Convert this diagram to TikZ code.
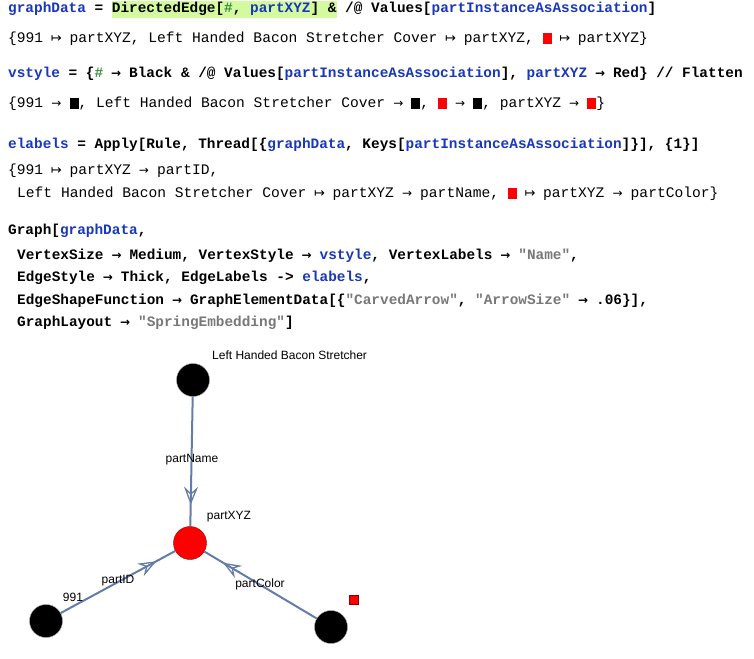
\documentclass[tikz,border=0pt]{standalone}
\usepackage{fontspec}
\setmainfont{Liberation Sans}
\setmonofont{Liberation Mono}
\newfontfamily\symfont{DejaVu Sans}
\usetikzlibrary{decorations.markings}

\definecolor{symblue}{RGB}{25,55,185}
\definecolor{hashgreen}{RGB}{60,140,60}
\definecolor{strgray}{RGB}{120,120,120}
\definecolor{hilite}{RGB}{212,250,160}
\definecolor{edgeblue}{RGB}{100,125,168}

\newcommand{\usym}[1]{\textcolor{symblue}{#1}}
\newcommand{\hsh}{\textcolor{hashgreen}{\#}}
\newcommand{\mstr}[1]{\textcolor{strgray}{#1}}
\newcommand{\hl}[1]{{\setlength{\fboxsep}{0pt}\colorbox{hilite}{\strut #1}}}
\newcommand{\rarr}{\makebox[0.6em]{\symfont\fontsize{12}{12}\selectfont →}}
\newcommand{\earr}{\makebox[0.6em]{\symfont\fontsize{13}{13}\selectfont ↦}}
\newcommand{\rsq}{\textcolor{red}{\rule[-1.5pt]{9pt}{11pt}}}
\newcommand{\bsq}{\textcolor{black}{\rule[-1.5pt]{9pt}{11pt}}}

\begin{document}
\begin{tikzpicture}[x=1pt, y=-1pt,
  incode/.style={anchor=base west, inner sep=0pt, font=\ttfamily\bfseries\fontsize{14.4}{17}\selectfont},
  outcode/.style={anchor=base west, inner sep=0pt, font=\ttfamily\fontsize{14.6}{17}\selectfont},
  vertex/.style={circle, fill=black, draw=gray!70, line width=0.4pt, minimum size=33pt, inner sep=0pt},
  vlabel/.style={inner sep=1pt, font=\fontsize{12}{13}\selectfont},
  gedge/.style={draw=edgeblue, line width=2pt, postaction={decorate},
    decoration={markings, mark=at position 0.82 with {\draw[edgeblue, line width=1.3pt, line join=miter] (0,0) -- (-14,5.5) -- (-9,0) -- (-14,-5.5) -- cycle;}}}]
				\useasboundingbox (0,0) rectangle (754,658);

				\node (gdin) at (8,13) [incode] {\usym{graphData} = \hl{DirectedEdge[\hsh, \usym{partXYZ}] \&} /@ Values[\usym{partInstanceAsAssociation}]};
				\node (gdout) at (8,43) [outcode] {\{991 \earr{} partXYZ, Left Handed Bacon Stretcher Cover \earr{} partXYZ, \rsq{} \earr{} partXYZ\}};
				\node (vsin) at (8,78) [incode] {\usym{vstyle} = \{\hsh{} \rarr{} Black \& /@ Values[\usym{partInstanceAsAssociation}], \usym{partXYZ} \rarr{} Red\} // Flatten};
				\node (vsout) at (8,108) [outcode] {\{991 \rarr{} \bsq, Left Handed Bacon Stretcher Cover \rarr{} \bsq, \rsq{} \rarr{} \bsq, partXYZ \rarr{} \rsq\}};
				\node (elin) at (8,148) [incode] {\usym{elabels} = Apply[Rule, Thread[\{\usym{graphData}, Keys[\usym{partInstanceAsAssociation}]\}], \{1\}]};
				\node (elouta) at (8,174) [outcode] {\{991 \earr{} partXYZ \rarr{} partID,};
				\node (eloutb) at (17,197) [outcode] {Left Handed Bacon Stretcher Cover \earr{} partXYZ \rarr{} partName, \rsq{} \earr{} partXYZ \rarr{} partColor\}};
				\node (gra) at (8,234) [incode] {Graph[\usym{graphData},};
				\node (grb) at (17,259) [incode] {VertexSize \rarr{} Medium, VertexStyle \rarr{} \usym{vstyle}, VertexLabels \rarr{} \mstr{"Name"},};
				\node (grc) at (17,281) [incode] {EdgeStyle \rarr{} Thick, EdgeLabels -> \usym{elabels},};
				\node (grd) at (17,304) [incode] {EdgeShapeFunction \rarr{} GraphElementData[\{\mstr{"CarvedArrow"}, \mstr{"ArrowSize"} \rarr{} .06\}],};
				\node (gre) at (17,326) [incode] {GraphLayout \rarr{} \mstr{"SpringEmbedding"}]};

				\node (bacon) at (193,380) [vertex] {};
				\node (xyz) at (190,543) [vertex, fill=red, draw=red!55!black] {};
				\node (id) at (46,621) [vertex] {};
				\node (color) at (331,627) [vertex] {};

				\draw[gedge] (bacon) -- (xyz);
				\draw[gedge] (id) -- (xyz);
				\draw[gedge] (color) -- (xyz);

				\node (baconlbl) at (211,355) [vlabel, anchor=west] {Left Handed Bacon Stretcher};
				\node (xyzlbl) at (229,517) [vlabel] {partXYZ};
				\node (idlbl) at (73,597) [vlabel] {991};
				\node (colorlbl) at (354,600) [fill=red, draw=red!55!black, line width=0.4pt, minimum size=9pt, inner sep=0pt] {};

				\node (namelbl) at (192,460) [vlabel] {partName};
				\node (partidlbl) at (118,581) [vlabel] {partID};
				\node (partcolorlbl) at (260,584) [vlabel] {partColor};
			\end{tikzpicture}
\end{document}
